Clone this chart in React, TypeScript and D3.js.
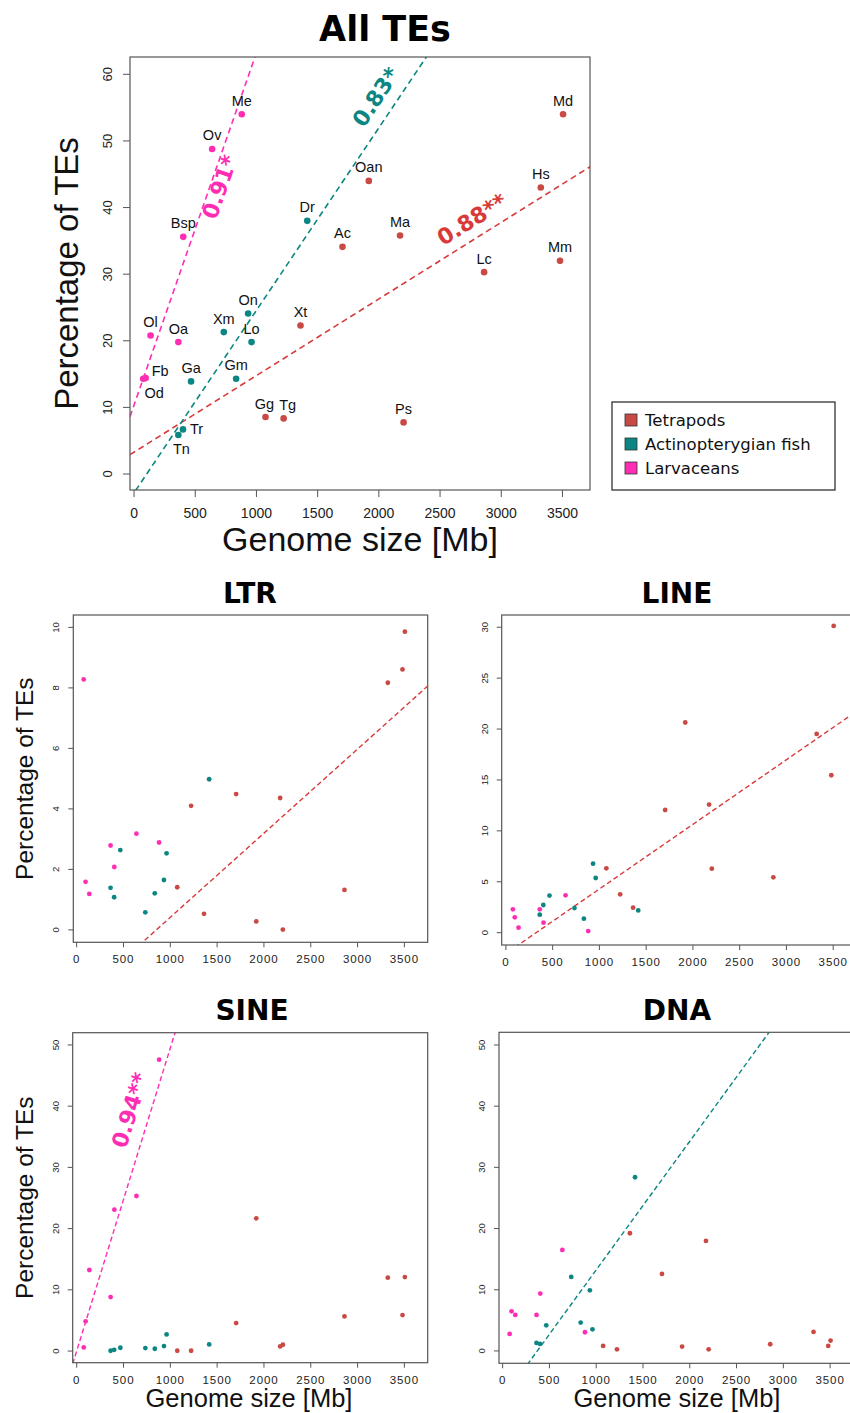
import React from "react";
import * as d3 from "d3";

// ---------------- DATA ----------------
const species = ["Md","Mm","Hs","Lc","Ps","Ma","Oan","Ac","Xt","Tg","Gg","Dr","Lo","On","Gm","Xm","Ga","Tr","Tn","Me","Ov","Bsp","Oa","Ol","Fb","Od"];
const groupOf = [0,0,0,0,0,0,0,0,0,0,0,1,1,1,1,1,1,1,1,2,2,2,2,2,2,2];
const genomeSize = [3505,3480,3323,2860,2202,2173,1918,1703,1360,1222,1074,1415,960,932,834,733,466,400,362,880,638,402,362,135,95,75];
const allTEs = [54.0,32.0,43.0,30.3,7.75,35.8,44.0,34.1,22.3,8.35,8.55,38.0,19.8,24.1,14.3,21.3,13.9,6.7,5.85,54.0,48.8,35.6,19.8,20.8,14.4,14.3];
const ltrTEs = [9.86,8.61,8.17,1.32,0.01,4.36,0.28,4.49,0.53,4.10,1.41,4.98,2.53,1.65,1.21,0.58,2.64,1.08,1.39,2.89,3.18,2.08,2.79,1.19,1.59,8.28];
const lineTEs = [30.13,15.46,19.52,5.44,6.29,12.58,20.64,12.05,2.46,3.77,6.32,2.19,5.37,6.78,1.38,2.42,3.64,2.72,1.77,0.16,3.67,0.98,2.29,0.49,1.51,2.29];
const sineTEs = [12.09,5.88,11.98,5.66,1.03,0.76,21.68,4.58,null,0.05,0.05,1.09,2.72,0.82,0.38,0.49,0.54,0.2,0.05,47.6,25.33,23.09,8.82,13.24,4.85,0.6];
const dnaTEs = [1.69,0.82,3.1,1.09,0.27,17.97,0.71,12.58,19.23,0.27,0.82,28.38,3.54,9.91,4.63,12.09,4.19,1.14,1.31,3.05,16.5,9.37,5.88,5.88,6.48,2.78];

const groupNames = ["Tetrapods","Actinopterygian fish","Larvaceans"];
const groupColors = ["#c94a45","#0b8682","#ff2db4"];
const fitColors = ["#d83a3a","#0b8682","#ff2db4"];

const xTicks = [0,500,1000,1500,2000,2500,3000,3500];
const allYTicks = [0,10,20,30,40,50,60];
const ltrYTicks = [0,2,4,6,8,10];
const lineYTicks = [0,5,10,15,20,25,30];
const sineYTicks = [0,10,20,30,40,50];
const dnaYTicks = [0,10,20,30,40,50];

type Fit = { group: number; slope: number; intercept: number; label?: string; at?: number; off?: number };
const allFits: Fit[] = [
  { group: 0, slope: 0.0115, intercept: 3.28, label: "0.88**", at: 2839, off: -17.9 },
  { group: 1, slope: 0.0274, intercept: -2.83, label: "0.83*", at: 2109, off: -19.5 },
  { group: 2, slope: 0.0529, intercept: 10.35, label: "0.91*", at: 628, off: 9.6 },
];
const ltrFits: Fit[] = [{ group: 0, slope: 0.002781, intercept: -2.365 }];
const lineFits: Fit[] = [{ group: 0, slope: 0.006345, intercept: -2.05 }];
const sineFits: Fit[] = [{ group: 2, slope: 0.04948, intercept: 0.04, label: "0.94**", at: 775, off: -20 }];
const dnaFits: Fit[] = [{ group: 1, slope: 0.02102, intercept: -7.78 }];

// label placement for the top panel: [dx, dy, anchor]
const labelPlace: Record<string, [number, number, string]> = {
  Fb: [6, -2, "start"],
  Od: [11, 19, "middle"],
  Tn: [3, 19, "middle"],
  Tr: [7, 4.5, "start"],
  Gg: [-1, -8.5, "middle"],
  Tg: [4, -8.5, "middle"],
};

// ---------------- PANEL ----------------
interface PanelProps {
  id: string;
  left: number; top: number; width: number; height: number;
  xDomain: [number, number]; yDomain: [number, number];
  values: (number | null)[];
  yTicks: number[];
  fits: Fit[];
  big: boolean;
  title: string; titleX: number; titleY: number; titleSize: number;
  yLabelX?: number;
  xLabelY?: number; xLabelX?: number;
  showNames?: boolean;
}

const SANS = "'Liberation Sans', Arial, Helvetica, sans-serif";

function Panel(p: PanelProps) {
  const x = d3.scaleLinear().domain(p.xDomain).range([p.left, p.left + p.width]);
  const y = d3.scaleLinear().domain(p.yDomain).range([p.top + p.height, p.top]);
  const bottom = p.top + p.height;
  const tickLen = p.big ? 7 : 5;
  const axisColor = "#555";
  const r = p.big ? 3.3 : 2.4;
  const clipId = "clip-" + p.id;
  const yLabelCenter = p.top + p.height / 2;

  return (
    <g>
      <defs>
        <clipPath id={clipId}>
          <rect x={p.left} y={p.top} width={p.width} height={p.height} />
        </clipPath>
      </defs>
      <text x={p.titleX} y={p.titleY} textAnchor="middle" fontFamily="'DejaVu Sans', sans-serif" fontWeight="bold" fontSize={p.titleSize} fill="#000">{p.title}</text>
      <g clipPath={`url(#${clipId})`}>
        {p.fits.map((f, i) => {
          const [x0, x1] = p.xDomain;
          return (
            <line key={i} x1={x(x0)} y1={y(f.intercept + f.slope * x0)} x2={x(x1)} y2={y(f.intercept + f.slope * x1)}
              stroke={fitColors[f.group]} strokeWidth={p.big ? 1.6 : 1.4} strokeDasharray={p.big ? "6,4" : "5,3"} />
          );
        })}
      </g>
      {p.values.map((v, i) => v == null ? null : (
        <circle key={i} cx={x(genomeSize[i])} cy={y(v)} r={r} fill={groupColors[groupOf[i]]} />
      ))}
      {p.showNames && p.values.map((v, i) => {
        if (v == null) return null;
        const pl = labelPlace[species[i]] || [0, -8.5, "middle"];
        return (
          <text key={"n" + i} x={x(genomeSize[i]) + pl[0]} y={y(v) + pl[1]} textAnchor={pl[2] as any}
            fontFamily={SANS} fontSize={14.5} fill="#111">{species[i]}</text>
        );
      })}
      {p.fits.filter(f => f.label).map((f, i) => {
        const ax = f.at as number;
        const px = x(ax), py = y(f.intercept + f.slope * ax);
        const dx = x(ax + 100) - x(ax);
        const dy = y(f.intercept + f.slope * (ax + 100)) - y(f.intercept + f.slope * ax);
        const ang = Math.atan2(dy, dx) * 180 / Math.PI;
        return (
          <g key={"a" + i} transform={`translate(${px},${py}) rotate(${ang})`}>
            <text x={0} y={f.off} textAnchor="middle" dominantBaseline="central"
              fontFamily="'DejaVu Sans', sans-serif" fontWeight="bold" fontSize={22} fill={fitColors[f.group]}>{f.label}</text>
          </g>
        );
      })}
      <rect x={p.left} y={p.top} width={p.width} height={p.height} fill="none" stroke={axisColor} strokeWidth={1.2} />
      {xTicks.map(t => (
        <g key={"xt" + t}>
          <line x1={x(t)} x2={x(t)} y1={bottom} y2={bottom + tickLen} stroke={axisColor} strokeWidth={1} />
          <text x={x(t)} y={bottom + (p.big ? 28 : 21)} textAnchor="middle" fontFamily={SANS}
            fontSize={p.big ? 14 : 11.5} letterSpacing={p.big ? 0 : 0.9} fill="#222">{t}</text>
        </g>
      ))}
      {p.yTicks.map(t => (
        <g key={"yt" + t}>
          <line x1={p.left} x2={p.left - tickLen} y1={y(t)} y2={y(t)} stroke={axisColor} strokeWidth={1} />
          <text transform={`translate(${p.left - (p.big ? 18 : 14)},${y(t)}) rotate(-90)`} textAnchor="middle"
            fontFamily={SANS} fontSize={p.big ? 13 : 9.5} fill="#222">{t}</text>
        </g>
      ))}
      {p.yLabelX != null && (
        <text transform={`translate(${p.yLabelX},${yLabelCenter}) rotate(-90)`} textAnchor="middle"
          fontFamily={SANS} fontSize={p.big ? 33 : 24.5} fill="#111">Percentage of TEs</text>
      )}
      {p.xLabelY != null && (
        <text x={p.xLabelX} y={p.xLabelY} textAnchor="middle" fontFamily={SANS} fontSize={p.big ? 34 : 25.5} fill="#111">Genome size [Mb]</text>
      )}
    </g>
  );
}

function Legend() {
  const lx = 612, ly = 402, w = 223, h = 88;
  return (
    <g>
      <rect x={lx} y={ly} width={w} height={h} fill="#fff" stroke="#222" strokeWidth={1.2} />
      {groupNames.map((g, i) => (
        <g key={g}>
          <rect x={lx + 13} y={ly + 12 + i * 24} width={12} height={12} fill={groupColors[i]} stroke="#333" strokeWidth={0.8} />
          <text x={lx + 33} y={ly + 24 + i * 24} fontFamily="'DejaVu Sans', sans-serif" fontSize={16.5} fill="#111">{g}</text>
        </g>
      ))}
    </g>
  );
}

export default function App() {
  return (
    <svg width={850} height={1413} style={{ position: "absolute", left: 0, top: 0, background: "#fff" }}>
      <rect x={0} y={0} width={850} height={1413} fill="#fff" />
      <Panel id="all" left={130} top={57} width={460} height={433}
        xDomain={[-33, 3725]} yDomain={[-2.4, 62.6]} values={allTEs} yTicks={allYTicks} fits={allFits}
        big={true} title="All TEs" titleX={385} titleY={41} titleSize={35}
        yLabelX={78} xLabelY={551} xLabelX={360} showNames={true} />
      <Legend />
      <Panel id="ltr" left={73.3} top={615} width={354.4} height={327.3}
        xDomain={[-36, 3749]} yDomain={[-0.41, 10.41]} values={ltrTEs} yTicks={ltrYTicks} fits={ltrFits}
        big={false} title="LTR" titleX={250} titleY={603} titleSize={28} yLabelX={33} />
      <Panel id="line" left={501.7} top={615} width={354.4} height={330}
        xDomain={[-45, 3745]} yDomain={[-1.21, 31.2]} values={lineTEs} yTicks={lineYTicks} fits={lineFits}
        big={false} title="LINE" titleX={677} titleY={603} titleSize={28} />
      <Panel id="sine" left={72.7} top={1032.7} width={355} height={330}
        xDomain={[-43, 3749]} yDomain={[-1.9, 52.0]} values={sineTEs} yTicks={sineYTicks} fits={sineFits}
        big={false} title="SINE" titleX={252} titleY={1020} titleSize={28} yLabelX={33}
        xLabelY={1407} xLabelX={249} />
      <Panel id="dna" left={499} top={1032.3} width={354.4} height={331}
        xDomain={[-39, 3749]} yDomain={[-2.02, 52.07]} values={dnaTEs} yTicks={dnaYTicks} fits={dnaFits}
        big={false} title="DNA" titleX={677} titleY={1020} titleSize={28}
        xLabelY={1407} xLabelX={677} />
    </svg>
  );
}
